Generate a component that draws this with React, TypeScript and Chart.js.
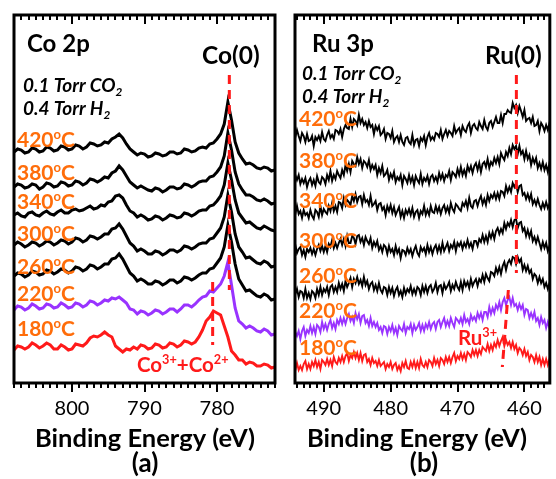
import React, { useEffect, useRef } from "react";
import { Chart, registerables } from "chart.js";

Chart.register(...registerables);

// ---------- Co 2p panel (a) ----------
const coEnergy = [
  808, 807.5, 807, 806.5, 806, 805.5, 805, 804.5, 804, 803.5, 803, 802.5, 802, 801.5, 801, 800.5, 800, 799.5, 799, 798.5, 798, 797.5, 797, 796.5, 796,
  795.5, 795, 794.5, 794, 793.5, 793, 792.5, 792, 791.5, 791,
  790.5, 790, 789.5, 789, 788.5, 788, 787.5, 787, 786.5, 786, 785.5, 785, 784.5, 784, 783.5, 783, 782.5, 782,
  781.5, 781, 780.5, 780, 779.5, 779, 778.5, 778, 777.5, 777, 776.5, 776,
  775.5, 775, 774.5, 774, 773.5, 773, 772.5, 772,
];
const co420 = [
  248, 251, 250, 247, 248, 252, 251, 248, 249, 253, 252, 249, 250, 254, 253, 250, 251, 255, 254, 251, 253, 257, 256, 254, 255,
  258, 257, 261, 263, 266, 262, 256, 251, 248, 245,
  247, 246, 243, 244, 247, 246, 244, 245, 248, 248, 246, 247, 251, 250, 248, 249, 252, 253,
  252, 256, 257, 261, 266, 276, 298, 280, 258, 247, 241, 236,
  237, 235, 232, 231, 233, 232, 229, 230,
];
const co380 = [
  213, 216, 215, 212, 213, 216, 215, 211, 213, 217, 216, 213, 214, 218, 217, 214, 215, 219, 218, 215, 217, 221, 220, 218, 220,
  223, 222, 227, 229, 234, 230, 224, 218, 215, 212,
  214, 212, 210, 209, 212, 211, 208, 210, 213, 213, 211, 212, 216, 215, 213, 215, 218, 219,
  219, 223, 224, 228, 233, 244, 267, 250, 228, 216, 210, 205,
  205, 203, 200, 199, 201, 199, 196, 197,
];
const co340 = [
  185, 187, 184, 183, 187, 188, 185, 184, 187, 189, 186, 185, 188, 190, 187, 187, 190, 191, 189, 190, 192, 194, 191, 192, 195,
  194, 198, 199, 204, 205, 202, 195, 189, 187, 183,
  185, 183, 180, 181, 184, 183, 180, 182, 185, 184, 182, 183, 187, 186, 184, 186, 189, 190,
  190, 194, 195, 199, 204, 215, 237, 220, 200, 187, 182, 177,
  178, 175, 172, 171, 174, 172, 170, 169,
];
const co300 = [
  155, 158, 156, 153, 155, 158, 157, 154, 156, 159, 158, 155, 157, 160, 159, 156, 158, 162, 161, 158, 160, 164, 163, 161, 163,
  166, 166, 171, 172, 176, 171, 164, 157, 154, 149,
  151, 149, 146, 146, 149, 148, 145, 147, 150, 150, 148, 150, 154, 153, 151, 153, 156, 157,
  157, 161, 162, 167, 172, 183, 205, 188, 166, 153, 148, 142,
  143, 140, 137, 136, 139, 137, 133, 134,
];
const co260 = [
  124, 127, 126, 123, 125, 129, 128, 125, 126, 130, 129, 126, 128, 131, 130, 127, 129, 133, 132, 129, 131, 135, 134, 131, 133,
  136, 136, 141, 142, 146, 141, 134, 127, 124, 119,
  121, 119, 116, 116, 119, 118, 115, 117, 120, 120, 117, 119, 123, 122, 120, 122, 125, 127,
  127, 131, 132, 137, 142, 153, 175, 158, 136, 121, 115, 109,
  110, 107, 104, 103, 106, 104, 100, 101,
];
const co220 = [
  90, 94, 93, 90, 92, 96, 94, 91, 92, 96, 95, 92, 93, 97, 95, 92, 93, 97, 96, 93, 95, 99, 98, 95, 97,
  100, 99, 102, 101, 103, 100, 97, 91, 90, 86,
  89, 88, 85, 87, 90, 89, 86, 88, 91, 91, 88, 91, 95, 95, 93, 96, 100, 103,
  104, 109, 108, 112, 116, 124, 138, 115, 92, 79, 76, 72,
  74, 72, 69, 68, 71, 69, 65, 66,
];
const co180 = [
  50, 54, 53, 51, 53, 57, 55, 52, 54, 57, 55, 51, 51, 55, 53, 50, 51, 56, 55, 54, 57, 62, 64, 63, 65,
  68, 65, 63, 54, 51, 48, 51, 50, 53, 51,
  55, 54, 51, 52, 56, 55, 52, 53, 57, 56, 53, 55, 59, 58, 56, 58, 63, 70,
  79, 83, 89, 87, 85, 74, 63, 49, 45, 40, 40, 36,
  38, 37, 34, 34, 36, 35, 32, 33,
];
const coMetalLineX = [778.3, 778.3];
const coMetalLineY = [325, 110];
const coOxideLineX = [780.6, 780.6];
const coOxideLineY = [118, 55];
const coRange = [772, 808];

// ---------- Ru 3p panel (b) ----------
const ruEnergy = [
  494.5, 494.25, 494, 493.75, 493.5, 493.25, 493, 492.75, 492.5, 492.25,
  492, 491.75, 491.5, 491.25, 491, 490.75, 490.5, 490.25, 490, 489.75,
  489.5, 489.25, 489, 488.75, 488.5, 488.25, 488, 487.75, 487.5, 487.25,
  487, 486.75, 486.5, 486.25, 486, 485.75, 485.5, 485.25, 485, 484.75,
  484.5, 484.25, 484, 483.75, 483.5, 483.25, 483, 482.75, 482.5, 482.25,
  482, 481.75, 481.5, 481.25, 481, 480.75, 480.5, 480.25, 480, 479.75,
  479.5, 479.25, 479, 478.75, 478.5, 478.25, 478, 477.75, 477.5, 477.25,
  477, 476.75, 476.5, 476.25, 476, 475.75, 475.5, 475.25, 475, 474.75,
  474.5, 474.25, 474, 473.75, 473.5, 473.25, 473, 472.75, 472.5, 472.25,
  472, 471.75, 471.5, 471.25, 471, 470.75, 470.5, 470.25, 470, 469.75,
  469.5, 469.25, 469, 468.75, 468.5, 468.25, 468, 467.75, 467.5, 467.25,
  467, 466.75, 466.5, 466.25, 466, 465.75, 465.5, 465.25, 465, 464.75,
  464.5, 464.25, 464, 463.75, 463.5, 463.25, 463, 462.75, 462.5, 462.25,
  462, 461.75, 461.5, 461.25, 461, 460.75, 460.5, 460.25, 460, 459.75,
  459.5, 459.25, 459, 458.75, 458.5, 458.25, 458, 457.75, 457.5, 457.25,
  457, 456.75, 456.5, 456.25, 456,
];
const ru420 = [
  268, 263, 270, 264, 259, 267, 264, 258, 266, 259,
  260, 264, 254, 263, 260, 264, 259, 268, 261, 259,
  265, 269, 262, 265, 261, 270, 269, 266, 271, 263,
  271, 275, 272, 271, 281, 273, 281, 279, 275, 285,
  277, 281, 275, 278, 272, 279, 273, 275, 266, 274,
  270, 274, 265, 267, 271, 261, 267, 266, 262, 269,
  258, 262, 264, 258, 265, 258, 255, 262, 263, 258,
  256, 265, 255, 260, 261, 254, 262, 259, 264, 255,
  263, 267, 260, 263, 260, 267, 266, 263, 270, 261,
  266, 270, 264, 269, 267, 264, 274, 267, 270, 272,
  265, 274, 270, 268, 274, 277, 267, 274, 276, 272,
  270, 278, 274, 271, 280, 273, 270, 277, 279, 273,
  278, 283, 277, 277, 285, 277, 286, 286, 290, 288,
  287, 297, 292, 295, 287, 294, 289, 283, 290, 279,
  281, 282, 277, 283, 274, 275, 279, 269, 277, 274,
  269, 275, 270, 277, 271,
];
const ru380 = [
  218, 225, 220, 225, 216, 221, 217, 222, 213, 219,
  222, 215, 220, 214, 224, 218, 216, 223, 221, 216,
  225, 220, 229, 219, 225, 221, 229, 225, 222, 230,
  225, 235, 229, 236, 228, 239, 236, 234, 243, 236,
  241, 232, 239, 237, 233, 240, 230, 235, 231, 235,
  225, 232, 227, 234, 224, 226, 230, 220, 226, 222,
  228, 218, 223, 220, 225, 215, 224, 221, 217, 225,
  218, 223, 215, 224, 220, 217, 226, 216, 222, 219,
  224, 216, 223, 225, 219, 223, 218, 227, 221, 226,
  219, 225, 223, 229, 220, 228, 226, 223, 231, 225,
  233, 225, 230, 224, 234, 229, 234, 227, 234, 237,
  230, 237, 228, 236, 238, 233, 241, 232, 238, 235,
  242, 237, 243, 236, 247, 243, 240, 248, 244, 252,
  246, 255, 251, 254, 246, 254, 246, 249, 241, 249,
  241, 245, 235, 242, 237, 242, 232, 237, 231, 238,
  230, 235, 228, 237, 229,
];
const ru340 = [
  193, 186, 194, 186, 189, 182, 190, 185, 187, 182,
  190, 184, 181, 190, 188, 183, 194, 185, 191, 188,
  186, 194, 189, 197, 189, 194, 188, 198, 197, 192,
  202, 195, 200, 198, 195, 204, 199, 206, 198, 203,
  204, 196, 205, 198, 200, 195, 204, 194, 196, 199,
  190, 196, 197, 190, 193, 185, 194, 189, 195, 187,
  193, 185, 189, 193, 183, 189, 182, 190, 186, 191,
  185, 192, 183, 188, 190, 182, 189, 186, 194, 185,
  190, 185, 194, 188, 187, 194, 188, 193, 186, 192,
  195, 188, 193, 187, 197, 191, 188, 196, 194, 191,
  189, 197, 194, 199, 192, 202, 194, 192, 199, 200,
  194, 200, 204, 196, 201, 195, 205, 199, 205, 202,
  207, 201, 207, 201, 209, 208, 204, 214, 208, 213,
  208, 217, 213, 217, 208, 214, 215, 205, 207, 201,
  206, 200, 206, 196, 200, 195, 201, 195, 191, 197,
  192, 198, 192, 196, 192,
];
const ru300 = [
  149, 155, 147, 151, 153, 145, 150, 143, 151, 148,
  152, 146, 151, 145, 151, 155, 149, 154, 148, 154,
  148, 156, 153, 160, 152, 157, 152, 157, 161, 155,
  161, 154, 164, 157, 157, 164, 162, 156, 164, 165,
  158, 162, 155, 163, 159, 156, 162, 152, 158, 154,
  159, 150, 154, 148, 155, 153, 146, 154, 148, 151,
  145, 154, 147, 151, 142, 150, 149, 145, 152, 147,
  151, 144, 150, 154, 147, 144, 153, 149, 152, 146,
  155, 148, 153, 146, 152, 155, 148, 154, 148, 157,
  149, 153, 157, 149, 155, 152, 158, 149, 157, 154,
  158, 151, 157, 153, 160, 153, 157, 151, 159, 159,
  154, 161, 158, 165, 158, 164, 158, 167, 162, 168,
  161, 169, 172, 166, 171, 167, 177, 171, 177, 174,
  180, 173, 180, 181, 172, 177, 178, 169, 172, 164,
  170, 163, 169, 159, 163, 157, 163, 157, 151, 158,
  152, 157, 149, 154, 150,
];
const ru260 = [
  112, 106, 111, 103, 109, 108, 102, 111, 102, 107,
  101, 109, 107, 102, 111, 105, 113, 105, 111, 108,
  113, 105, 113, 115, 108, 113, 108, 117, 111, 116,
  109, 119, 113, 117, 122, 113, 121, 117, 123, 116,
  120, 114, 123, 115, 119, 111, 116, 118, 110, 115,
  109, 117, 110, 107, 113, 112, 105, 113, 107, 112,
  104, 110, 113, 105, 109, 103, 112, 106, 111, 108,
  114, 106, 111, 106, 113, 111, 105, 114, 108, 114,
  107, 113, 115, 108, 111, 117, 108, 114, 115, 107,
  116, 111, 114, 118, 109, 115, 111, 118, 113, 110,
  118, 110, 119, 114, 118, 112, 121, 114, 118, 121,
  114, 121, 118, 125, 118, 126, 122, 119, 128, 127,
  124, 132, 127, 133, 126, 134, 138, 130, 137, 140,
  136, 143, 142, 136, 143, 138, 141, 130, 135, 129,
  134, 127, 130, 121, 126, 124, 117, 123, 117, 121,
  113, 117, 111, 117, 112,
];
const ru220 = [
  61, 68, 64, 69, 61, 69, 73, 64, 70, 67,
  74, 67, 73, 66, 75, 73, 68, 78, 71, 76,
  70, 76, 80, 72, 77, 71, 80, 76, 82, 76,
  82, 76, 82, 86, 79, 83, 77, 87, 81, 86,
  77, 84, 85, 77, 80, 74, 82, 74, 78, 73,
  77, 70, 73, 67, 74, 73, 66, 73, 69, 75,
  67, 72, 65, 74, 71, 69, 76, 67, 73, 71,
  76, 67, 75, 70, 73, 77, 69, 75, 69, 76,
  72, 78, 71, 76, 78, 71, 78, 80, 73, 78,
  82, 74, 79, 74, 82, 77, 73, 82, 80, 77,
  82, 76, 85, 78, 81, 76, 85, 80, 83, 79,
  87, 82, 87, 80, 88, 88, 83, 93, 86, 92,
  87, 95, 91, 98, 90, 98, 102, 95, 100, 103,
  95, 102, 94, 96, 90, 96, 91, 95, 85, 91,
  90, 82, 87, 82, 88, 79, 82, 75, 83, 77,
  80, 72, 78, 72, 78,
];
const ru180 = [
  35, 30, 37, 30, 34, 30, 36, 39, 31, 36,
  31, 38, 34, 40, 33, 38, 31, 40, 38, 35,
  41, 35, 40, 34, 43, 38, 36, 42, 38, 44,
  38, 44, 47, 39, 45, 42, 48, 42, 47, 40,
  47, 39, 45, 46, 38, 41, 35, 42, 37, 39,
  34, 40, 34, 36, 38, 31, 36, 33, 38, 31,
  35, 37, 30, 34, 29, 37, 33, 39, 32, 31,
  38, 33, 39, 32, 38, 32, 41, 35, 33, 38,
  33, 40, 38, 34, 42, 36, 40, 34, 42, 40,
  36, 43, 38, 43, 37, 43, 47, 39, 44, 41,
  47, 41, 46, 40, 48, 46, 43, 50, 45, 50,
  44, 50, 46, 53, 51, 49, 56, 49, 55, 50,
  57, 53, 60, 54, 59, 63, 54, 60, 55, 58,
  52, 58, 51, 55, 47, 52, 50, 45, 51, 44,
  48, 40, 45, 43, 38, 45, 38, 43, 35, 41,
  35, 41, 35, 41, 36,
];
const ruMetalLineX = [461.2, 461.2];
const ruMetalLineY = [325, 127];
const ruOxideLineX = [462.4, 463.3];
const ruOxideLineY = [110, 33];
const ruRange = [456.2, 494.3];

const temperatures = ["420", "380", "340", "300", "260", "220", "180"];
const intensityRange = [17, 385];

// ---------- styles ----------
const FAMILY = 'Lato, "Open Sans", "DejaVu Sans", sans-serif';
const BLACK = "#000000";
const PURPLE = "#9933ff";
const RED = "#ff1a1a";
const ORANGE = "#ff6d0a";
const seriesColors = [BLACK, BLACK, BLACK, BLACK, BLACK, PURPLE, RED];

type Part = { t: string; sup?: boolean; sub?: boolean };

function drawParts(
  ctx: CanvasRenderingContext2D,
  parts: Part[],
  x: number,
  y: number,
  size: number,
  weight: string,
  style: string,
  color: string,
  align: "left" | "center" = "left"
) {
  const fontFor = (s: number) => `${style} ${weight} ${s}px ${FAMILY}`;
  const widths: number[] = [];
  let total = 0;
  for (const p of parts) {
    const s = p.sup || p.sub ? size * 0.62 : size;
    ctx.font = fontFor(s);
    const w = ctx.measureText(p.t).width;
    widths.push(w);
    total += w;
  }
  let cx = align === "center" ? x - total / 2 : x;
  ctx.fillStyle = color;
  ctx.textAlign = "left";
  ctx.textBaseline = "alphabetic";
  parts.forEach((p, i) => {
    const s = p.sup || p.sub ? size * 0.62 : size;
    ctx.font = fontFor(s);
    const dy = p.sup ? -size * 0.38 : p.sub ? size * 0.22 : 0;
    ctx.fillText(p.t, cx, y + dy);
    cx += widths[i];
  });
}

type TextItem = {
  parts: Part[];
  x: number;
  y: number;
  size: number;
  weight?: string;
  style?: string;
  color?: string;
  align?: "left" | "center";
};

type PanelCfg = {
  id: string;
  canvasLeft: number;
  canvasWidth: number;
  padLeft: number;
  padRight: number;
  range: number[];
  energy: number[];
  series: number[][];
  lineWidth: number;
  markers: { x: number[]; y: number[] }[];
  texts: TextItem[];
  tempX: number;
  tempBaselines: number[];
};

const coPanel: PanelCfg = {
  id: "co",
  canvasLeft: 0,
  canvasWidth: 280,
  padLeft: 14,
  padRight: 5,
  range: coRange,
  energy: coEnergy,
  series: [co420, co380, co340, co300, co260, co220, co180],
  lineWidth: 3,
  markers: [
    { x: coMetalLineX, y: coMetalLineY },
    { x: coOxideLineX, y: coOxideLineY },
  ],
  texts: [
    { parts: [{ t: "Co 2p" }], x: 27, y: 52, size: 24 },
    { parts: [{ t: "Co(0)" }], x: 202, y: 64, size: 24.5 },
    { parts: [{ t: "0.1 Torr CO" }, { t: "2", sub: true }], x: 23, y: 92, size: 19, style: "italic" },
    { parts: [{ t: "0.4 Torr H" }, { t: "2", sub: true }], x: 23, y: 115, size: 19, style: "italic" },
    {
      parts: [{ t: "Co" }, { t: "3+", sup: true }, { t: "+Co" }, { t: "2+", sup: true }],
      x: 137, y: 372, size: 20.5, color: RED,
    },
    { parts: [{ t: "Binding Energy (eV)" }], x: 35, y: 447, size: 25.5 },
    { parts: [{ t: "(a)" }], x: 145, y: 472, size: 26, align: "center" },
  ],
  tempX: 17,
  tempBaselines: [147, 180, 209, 241, 274, 301, 336],
};

const ruPanel: PanelCfg = {
  id: "ru",
  canvasLeft: 280,
  canvasWidth: 276,
  padLeft: 15,
  padRight: 2,
  range: ruRange,
  energy: ruEnergy,
  series: [ru420, ru380, ru340, ru300, ru260, ru220, ru180],
  lineWidth: 1.9,
  markers: [
    { x: ruMetalLineX, y: ruMetalLineY },
    { x: ruOxideLineX, y: ruOxideLineY },
  ],
  texts: [
    { parts: [{ t: "Ru 3p" }], x: 312, y: 52, size: 24 },
    { parts: [{ t: "Ru(0)" }], x: 485, y: 64, size: 24.5 },
    { parts: [{ t: "0.1 Torr CO" }, { t: "2", sub: true }], x: 302, y: 80, size: 19, style: "italic" },
    { parts: [{ t: "0.4 Torr H" }, { t: "2", sub: true }], x: 302, y: 103, size: 19, style: "italic" },
    { parts: [{ t: "Ru" }, { t: "3+", sup: true }], x: 458, y: 345, size: 20.5, color: RED },
    { parts: [{ t: "Binding Energy (eV)" }], x: 307, y: 447, size: 25.5 },
    { parts: [{ t: "(b)" }], x: 424, y: 472, size: 26, align: "center" },
  ],
  tempX: 299,
  tempBaselines: [126, 168, 208, 248, 283, 318, 355],
};

function framePlugin(cfg: PanelCfg) {
  return {
    id: "frame-" + cfg.id,
    afterDraw(chart: any) {
      const ctx: CanvasRenderingContext2D = chart.ctx;
      const a = chart.chartArea;
      const xs = chart.scales.x;
      ctx.save();
      ctx.strokeStyle = BLACK;
      ctx.lineWidth = 3;
      ctx.strokeRect(a.left, a.top, a.right - a.left, a.bottom - a.top);
      ctx.lineWidth = 2;
      ctx.beginPath();
      for (let v = Math.ceil(xs.min); v <= Math.floor(xs.max); v++) {
        const px = Math.round(xs.getPixelForValue(v));
        const major = v % 10 === 0;
        const len = major ? 9 : 5;
        ctx.moveTo(px, a.bottom);
        ctx.lineTo(px, a.bottom + len);
        ctx.moveTo(px, a.top);
        ctx.lineTo(px, a.top + len);
      }
      ctx.stroke();
      const off = cfg.canvasLeft;
      for (const t of cfg.texts) {
        drawParts(
          ctx, t.parts, t.x - off, t.y, t.size,
          t.weight || "bold", t.style || "normal", t.color || BLACK, t.align || "left"
        );
      }
      temperatures.forEach((temp, i) => {
        drawParts(
          ctx,
          [{ t: temp }, { t: "o", sup: true }, { t: "C" }],
          cfg.tempX - off, cfg.tempBaselines[i], 21, "bold", "normal", ORANGE
        );
      });
      ctx.restore();
    },
  };
}

function Panel({ cfg }: { cfg: PanelCfg }) {
  const ref = useRef<HTMLCanvasElement | null>(null);
  useEffect(() => {
    if (!ref.current) return;
    const markerSets = cfg.markers.map((m) => ({
      data: m.x.map((xv, i) => ({ x: xv, y: m.y[i] })),
      borderColor: RED,
      borderWidth: 3,
      borderDash: [9, 6],
      pointRadius: 0,
      tension: 0,
    }));
    const traceSets = cfg.series.map((s, k) => ({
      data: cfg.energy.map((e, i) => ({ x: e, y: s[i] })),
      borderColor: seriesColors[k],
      borderWidth: cfg.lineWidth,
      pointRadius: 0,
      tension: 0,
    }));
    const chart = new Chart(ref.current, {
      type: "line",
      data: { datasets: [...markerSets, ...traceSets] as any },
      options: {
        responsive: false,
        animation: false,
        events: [],
        layout: { padding: { left: cfg.padLeft, right: cfg.padRight, top: 15, bottom: 6 } },
        plugins: { legend: { display: false }, tooltip: { enabled: false } },
        scales: {
          x: {
            type: "linear",
            reverse: true,
            min: cfg.range[0],
            max: cfg.range[1],
            grid: { display: false, drawTicks: false },
            border: { display: false },
            ticks: {
              stepSize: 10,
              includeBounds: false,
              autoSkip: false,
              maxRotation: 0,
              padding: 14,
              color: BLACK,
              font: { family: FAMILY, size: 20 },
            },
            afterFit: (s: any) => {
              s.height = 90;
            },
          },
          y: {
            display: false,
            min: intensityRange[0],
            max: intensityRange[1],
          },
        },
      } as any,
      plugins: [framePlugin(cfg)],
    });
    return () => chart.destroy();
  }, [cfg]);
  return (
    <canvas
      ref={ref}
      width={cfg.canvasWidth}
      height={479}
      style={{ position: "absolute", left: cfg.canvasLeft, top: 0, width: cfg.canvasWidth, height: 479 }}
    />
  );
}

export default function App() {
  return (
    <div style={{ position: "absolute", left: 0, top: 0, width: 556, height: 479, background: "#ffffff", overflow: "hidden" }}>
      <Panel cfg={coPanel} />
      <Panel cfg={ruPanel} />
    </div>
  );
}
